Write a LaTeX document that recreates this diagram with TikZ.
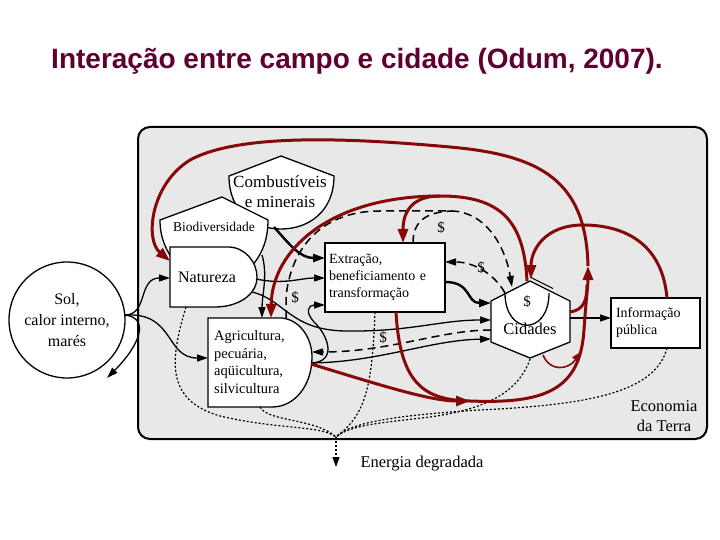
\documentclass[tikz,border=0pt]{standalone}
\usepackage{fontspec}
\setmainfont{Liberation Serif}
\newfontfamily\titlefont{Liberation Sans}
\usetikzlibrary{arrows.meta}
\definecolor{bggray}{RGB}{232,232,232}
\definecolor{odred}{RGB}{135,8,8}
\definecolor{titlecol}{RGB}{96,0,48}
\newcommand\fsz[2]{\fontsize{#1}{#2}\selectfont}
\begin{document}
\begin{tikzpicture}[x=1pt,y=-1pt,
  blk/.style={line width=1.3pt,-{Triangle[length=11pt,width=7pt]}},
  thk/.style={line width=2.4pt,-{Triangle[length=12pt,width=8pt]}},
  dsh/.style={line width=1.5pt,dash pattern=on 8pt off 5pt,-{Triangle[length=11pt,width=7pt]}},
  dsn/.style={line width=1.5pt,dash pattern=on 8pt off 5pt},
  dot/.style={line width=1.2pt,dash pattern=on 2pt off 2pt},
  rline/.style={line width=3pt,draw=odred},
  rarr/.style={-{Triangle[length=14pt,width=10pt]}},
  shp/.style={draw,line width=1.3pt,fill=white},
  lbl/.style={inner sep=0pt}]
\useasboundingbox (0,0) rectangle (720,540);
% title
\node[lbl,text=titlecol] (title) at (357,61) {\titlefont\bfseries\fsz{28}{32}Interação entre campo e cidade (Odum, 2007).};
% background
\draw[line width=2pt,fill=bggray,rounded corners=12pt] (138,127) rectangle (707,439);

% coordinates
\coordinate (sol-e) at (125,315);
\coordinate (nat-w) at (170,278);
\coordinate (agr-w) at (208,358);
\coordinate (solout) at (107,378);
\coordinate (bio-se) at (262,255);
\coordinate (agr-n1) at (262,318);
\coordinate (comb-s) at (274,227);
\coordinate (ext-w1) at (325,258);
\coordinate (nat-e) at (256,279);
\coordinate (ext-w2) at (325,278);
\coordinate (nat-se) at (252,292);
\coordinate (cid-w2) at (491,320);
\coordinate (agr-e) at (311,363);
\coordinate (ext-w3) at (325,305);
\coordinate (cid-w3) at (491,339);
\coordinate (ext-e) at (445,282);
\coordinate (cid-w1) at (491,303);
\coordinate (cid-e) at (570,318);
\coordinate (inf-w) at (611,318);
\coordinate (cid-w4) at (491,330);
\coordinate (agr-e2) at (312,352);
\coordinate (cid-nw) at (505,293);
\coordinate (ext-e2) at (445,262);
\coordinate (agr-n2) at (286,318);
\coordinate (cid-n1) at (512,287);
\coordinate (ext-n2) at (413,243);
\coordinate (djoin) at (452,211);
\coordinate (agr-e3) at (311,364);
\coordinate (rjoin) at (470,401);
\coordinate (ext-s) at (396,312);
\coordinate (rup) at (588,266);
\coordinate (rmerge) at (587,285);
\coordinate (nat-nw) at (170,261);
\coordinate (cid-n) at (527,281);
\coordinate (rsplit) at (440,196);
\coordinate (ext-n) at (403,243);
\coordinate (agr-n3) at (271,318);
\coordinate (inf-n) at (667,298);
\coordinate (cid-n2) at (531,279);
\coordinate (cid-ne) at (570,312);
\coordinate (cid-se) at (543,355);
\coordinate (rthin) at (582,351);
\coordinate (nat-s) at (186,307);
\coordinate (agr-s) at (260,407);
\coordinate (ext-s2) at (375,312);
\coordinate (cid-s) at (530,359);
\coordinate (inf-s) at (667,348);
\coordinate (sink) at (336,437);
\coordinate (deg) at (336,467);

% dotted heat-sink lines
\draw[dot] (nat-s) .. controls (170,360) and (165,400) .. (220,416) .. controls (280,430) and (320,425) .. (sink);
\draw[dot] (agr-s) .. controls (268,422) and (315,418) .. (sink);
\draw[dot] (ext-s2) .. controls (372,390) and (365,415) .. (sink);
\draw[dot] (cid-s) .. controls (518,395) and (480,410) .. (430,417) .. controls (380,423) and (350,425) .. (sink);
\draw[dot] (inf-s) .. controls (655,395) and (580,405) .. (480,410) .. controls (400,415) and (350,422) .. (sink);
\draw[dot,-{Triangle[length=10pt,width=7pt]}] (sink) -- (deg);

% shapes
\node[circle,draw,line width=1.3pt,fill=white,minimum size=116pt,inner sep=0pt,align=center,font=\fsz{16}{21}] (sol) at (67,320) {Sol,\\calor interno,\\marés};
\draw[shp] (229,176) -- (281,156) -- (334,176) .. controls (334,212) and (308,229) .. (281,229) .. controls (254,229) and (229,212) .. (229,176) -- cycle;
\draw[shp] (160,220) -- (222,197) -- (268,220) .. controls (268,240) and (262,255) .. (250,268) -- (180,268) .. controls (168,255) and (160,240) .. (160,220) -- cycle;
\node[lbl,align=center,font=\fsz{17}{20}] (comb) at (280,192) {Combustíveis\\e minerais};
\node[lbl,font=\fsz{13.5}{16}] (bio) at (214,227) {Biodiversidade};
\draw[shp] (170,247) -- (228,247) .. controls (245,247) and (257,262) .. (257,277) .. controls (257,295) and (238,307) .. (215,307) -- (170,307) -- cycle;
\node[lbl,font=\fsz{16}{19}] (nat) at (207,277) {Natureza};
\draw[shp] (208,318) -- (282,318) .. controls (300,320) and (312,338) .. (312,357) .. controls (312,385) and (295,407) .. (272,407) -- (208,407) -- cycle;
\node[lbl,anchor=west,align=left,font=\fsz{14.5}{17.5}] (agr) at (214,362) {Agricultura,\\pecuária,\\aqüicultura,\\silvicultura};
\node[draw,line width=1.3pt,fill=white,minimum width=120pt,minimum height=69pt,text width=112pt,inner sep=4pt,align=left,font=\fsz{14}{17}] (ext) at (385,277.5) {Extração,\\beneficiamento e\\transformação};
\node[draw,line width=1.3pt,fill=white,minimum width=89pt,minimum height=50pt,text width=79pt,inner sep=5pt,align=left,font=\fsz{14}{17}] (inf) at (655.5,323) {Informação\\pública};
\draw[shp] (530,281) -- (570,301) -- (570,342) -- (530,358) -- (491,342) -- (491,301) -- cycle;
\draw[line width=1.1pt] (530,277) -- (553,288.5);
\draw[line width=1.3pt] (505,293) .. controls (505,336) and (549,336) .. (549,293);
\node[lbl,font=\fsz{15}{18}] (cidd) at (527,302) {\$};
\node[lbl,font=\fsz{16.5}{19}] (cid) at (530,329) {Cidades};

% texts
\node[lbl,align=center,font=\fsz{16.5}{20}] (econ) at (664,416) {Economia\\da Terra};
\node[lbl,font=\fsz{16.5}{19}] (energ) at (422,464) {Energia degradada};

% black connectors
\draw[blk] (sol-e) .. controls (148,315) and (138,278) .. (nat-w);
\draw[blk] (sol-e) .. controls (175,312) and (165,358) .. (agr-w);
\draw[blk] (sol-e) .. controls (150,318) and (140,345) .. (solout);
\draw[blk] (bio-se) .. controls (268,275) and (262,295) .. (agr-n1);
\draw[thk] (comb-s) .. controls (290,245) and (300,258) .. (ext-w1);
\draw[blk] (nat-e) .. controls (285,285) and (300,278) .. (ext-w2);
\draw[blk] (nat-se) .. controls (285,300) and (290,330) .. (345,331) .. controls (410,332) and (440,320) .. (cid-w2);
\draw[blk] (agr-e) .. controls (338,362) and (328,335) .. (314,322) .. controls (305,312) and (308,305) .. (ext-w3);
\draw[blk] (agr-e) .. controls (380,362) and (430,340) .. (cid-w3);
\draw[thk] (ext-e) .. controls (472,282) and (466,303) .. (cid-w1);
\draw[blk] (cid-e) -- (inf-w);

% dashed money flows
\draw[dsh] (cid-w4) .. controls (440,330) and (390,352) .. (agr-e2);
\node[lbl,font=\fsz{15}{18}] (d1) at (383,338) {\$};
\draw[dsh] (cid-nw) .. controls (495,275) and (475,262) .. (ext-e2);
\node[lbl,font=\fsz{15}{18}] (d2) at (481,268) {\$};
\draw[dsh] (agr-n2) -- (286,298) .. controls (290,250) and (320,211) .. (380,211) -- (djoin) .. controls (485,212) and (505,245) .. (cid-n1);
\draw[dsn] (ext-n2) .. controls (413,222) and (425,212) .. (djoin);
\node[lbl,font=\fsz{15}{18}] (d3) at (441,228) {\$};
\node[lbl,font=\fsz{15}{18}] (d4) at (295,298) {\$};

% red feedback flows
\draw[rline] (ext-s) .. controls (400,385) and (425,400) .. (rjoin);
\draw[rline,rarr] (agr-e3) .. controls (380,385) and (430,401) .. (rjoin);
\draw[rline,rarr] (rjoin) .. controls (545,404) and (580,390) .. (584,330) .. controls (586,300) and (588,285) .. (rup);
\draw[rline,rarr] (rup) .. controls (586,180) and (540,155) .. (450,147) .. controls (350,138) and (240,133) .. (190,160) .. controls (150,185) and (145,240) .. (nat-nw);
\draw[rline] (cid-ne) .. controls (584,310) and (587,300) .. (rmerge);
\draw[rline] (cid-n) .. controls (524,220) and (500,196) .. (rsplit);
\draw[rline,rarr] (rsplit) .. controls (412,196) and (403,212) .. (ext-n);
\draw[rline,rarr] (rsplit) .. controls (330,196) and (272,250) .. (agr-n3);
\draw[rline,rarr] (inf-n) .. controls (662,240) and (620,225) .. (583,225) .. controls (545,225) and (531,250) .. (cid-n2);
\draw[line width=1.6pt,draw=odred,-{Triangle[length=11pt,width=8pt]}] (cid-se) .. controls (550,372) and (568,370) .. (rthin);
\end{tikzpicture}
\end{document}
